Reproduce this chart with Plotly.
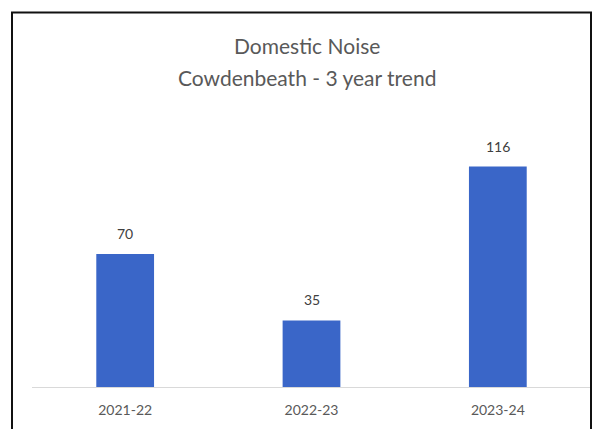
import plotly.graph_objects as go

years = ["2021-22", "2022-23", "2023-24"]
cases = [70, 35, 116]
title_lines = ["Domestic Noise", "Cowdenbeath - 3 year trend"]

W, H = 601, 429
# the page body adds an 8px margin, so everything is laid out 8px up/left
ml, mr, mt, mb = 24, 18, 92, 50

fig = go.Figure(go.Bar(
    x=years,
    y=cases,
    marker=dict(color="#3a66c8", line=dict(width=0)),
    width=0.31,
))

# value labels above the bars
for yr, v in zip(years, cases):
    fig.add_annotation(x=yr, y=v, text=str(v), showarrow=False,
                       yanchor="bottom", yshift=10,
                       font=dict(family="Lato", size=14, color="#404040"))

# pixel -> paper coordinate helpers
pw, ph = W - ml - mr, H - mt - mb
def px_x(v):
    return (v - ml) / pw
def px_y(v):
    return (H - mb - v) / ph

# two-line title, spaced like the original
for line, ypix in zip(title_lines, [37, 69]):
    fig.add_annotation(xref="paper", yref="paper", x=px_x(299), y=px_y(ypix),
                       xanchor="center", yanchor="middle", showarrow=False,
                       text=line, font=dict(family="Lato", size=21, color="#595959"))

# outer frame
fig.add_shape(type="path", xref="paper", yref="paper",
              path=f"M {px_x(4)} {px_y(440)} L {px_x(4)} {px_y(4.5)} "
                   f"L {px_x(583)} {px_y(4.5)} L {px_x(583)} {px_y(440)}",
              line=dict(color="#111111", width=2))

fig.update_layout(
    width=W, height=H,
    margin=dict(l=ml, r=mr, t=mt, b=mb),
    paper_bgcolor="white", plot_bgcolor="white",
    xaxis=dict(showline=True, linecolor="#d9d9d9", linewidth=1,
               ticks="", ticklabelstandoff=10,
               tickfont=dict(family="Lato", size=14, color="#595959")),
    yaxis=dict(visible=False, range=[0, 151]),
    showlegend=False,
)

fig.write_html("out.html")
